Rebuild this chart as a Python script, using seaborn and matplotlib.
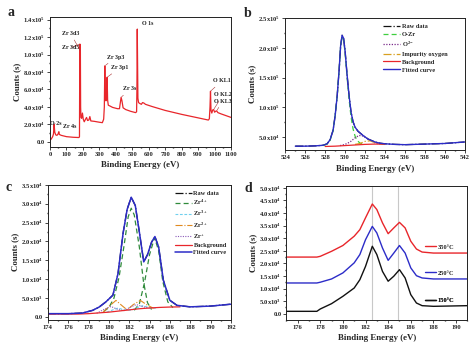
import numpy as np
import matplotlib
matplotlib.use("Agg")
import matplotlib.pyplot as plt
import seaborn as sns
from matplotlib.ticker import FuncFormatter, MultipleLocator, AutoMinorLocator

# ---------------- (a) survey spectrum ----------------
survey_ev = [0, 8, 16, 21, 25, 29, 35, 42, 49, 53, 57, 68, 100, 140, 176, 179, 180,
             181.5, 183, 184.5, 186, 188, 192, 197, 202, 208, 216, 222, 228, 236, 242,
             248, 270, 300, 318, 326, 330, 333, 336, 340, 344, 347, 350, 354, 365, 380,
             410, 422, 428, 432, 437, 444, 460, 490, 520, 526, 528, 530, 532, 534, 538,
             545, 555, 562, 570, 580, 620, 700, 800, 900, 962, 968, 972, 975, 978, 983,
             988, 994, 1000, 1006, 1012, 1020, 1040, 1070, 1100]
survey_counts = [1500, 3500, 6000, 9000, 20000, 11000, 8000, 7500, 9000, 11500, 8500,
                 7500, 6000, 5300, 5000, 6000, 60000, 112000, 90000, 104000, 40000,
                 28000, 27000, 33000, 26000, 23000, 26000, 28000, 24500, 25000, 29000,
                 24000, 23500, 22500, 22000, 26000, 40000, 87000, 52000, 47000, 50000,
                 74000, 48000, 42000, 41000, 39500, 38000, 38000, 46000, 51000, 47000,
                 39000, 37000, 35000, 33500, 34500, 60000, 129000, 90000, 50000, 45000,
                 44000, 43000, 45000, 44500, 43000, 40500, 36000, 31500, 27500, 25000,
                 26500, 40000, 58000, 36000, 33000, 36500, 37000, 34000, 35000, 35500,
                 33500, 32000, 30000, 28000]
survey_labels = ["O 2s", "Zr 4s", "Zr 3d5", "Zr 3d3", "Zr 3p3", "Zr 3p1", "Zr 3s",
                 "O 1s", "O KL1", "O KL2", "O KL3"]
survey_peak_ev = [25, 53, 181.5, 184.5, 333, 347, 432, 530, 975, 994, 1012]
survey_text_ev = [0, 80, 73, 73, 348, 373, 446, 556, 990, 996, 996]
survey_text_counts = [21500, 18000, 108000, 124000, 97000, 85000, 60600, 135000,
                      69800, 53700, 46800]

# ---------------- (b) O 1s ----------------
o1s_ev = [525, 526, 527, 527.8, 528.2, 528.5, 528.8, 529.0, 529.2, 529.4, 529.55,
          529.7, 529.85, 530.0, 530.2, 530.4, 530.6, 530.8, 531.0, 531.3, 531.8, 532.3,
          533.0, 533.5, 534, 535, 536, 538, 540, 542]
o1s_fit = [35000, 35000, 35500, 36500, 39000, 46000, 62000, 86000, 118000, 162000,
           203000, 221000, 216000, 195000, 155000, 120000, 92000, 76000, 67000, 60000,
           53000, 47000, 42000, 40000, 39000, 38000, 37500, 38500, 39500, 42000]
o1s_raw = o1s_fit
ozr_ev = [527.8, 528.2, 528.5, 528.8, 529.0, 529.2, 529.4, 529.55, 529.7, 529.85, 530.0,
          530.2, 530.4, 530.6, 530.8, 531.0, 531.2, 531.5, 532.0]
ozr_counts = [36000, 38500, 45000, 61000, 85000, 117000, 161000, 201000, 218000,
              213000, 192000, 151000, 114000, 84000, 64000, 52000, 45000, 40000, 37500]
o2_ev = [529.5, 530.0, 530.5, 531.0, 531.4, 531.8, 532.3, 532.8, 533.3, 534.0]
o2_counts = [36000, 38000, 42000, 49000, 53000, 52000, 47000, 42000, 39000, 38000]
oimp_ev = [531.0, 531.5, 532.0, 532.5, 533.0, 533.5, 534.0]
oimp_counts = [38000, 39500, 43000, 44000, 41000, 38500, 38000]
obg_ev = [528, 529, 530, 531, 532, 533, 534]
obg_counts = [34500, 35000, 36000, 37000, 38000, 38500, 38500]

# ---------------- (c) Zr 3d ----------------
zr_ev = [174, 176, 177.4, 178.4, 179.05, 179.7, 180.4, 180.9, 181.4, 181.8, 182.2,
         182.6, 183.0, 183.43, 183.8, 184.2, 184.53, 184.9, 185.36, 186.0, 186.7, 188,
         190, 192]
zr_fit = [900, 900, 1060, 1770, 2660, 4000, 5800, 11500, 22200, 28500, 31700, 29500,
          22500, 14600, 16500, 19800, 21300, 18500, 9750, 4430, 3100, 2700, 2900, 3400]
zr_raw = zr_fit
zr4a_ev = [179.5, 180.0, 180.5, 181.0, 181.5, 181.9, 182.2, 182.5, 183.0, 183.4, 183.8,
           184.2]
zr4a_counts = [1500, 2500, 5000, 10500, 19000, 26500, 28800, 27000, 18500, 9500, 3800,
               2000]
zr4b_ev = [182.5, 183.0, 183.5, 184.0, 184.5, 184.9, 185.3, 185.8, 186.3]
zr4b_counts = [1800, 3500, 9000, 16500, 21000, 17500, 9500, 4000, 2500]
zr3_ev = [179.8, 180.4, 180.9, 181.5, 182.2, 182.8, 183.3, 183.9, 184.6]
zr3_counts = [1300, 1900, 2400, 1900, 1800, 2500, 3000, 2600, 2300]
zr2_ev = [179.4, 180.0, 180.7, 181.3, 181.8, 182.4, 183.1, 183.7, 184.4]
zr2_counts = [1200, 2800, 4400, 3000, 1900, 3300, 4400, 3300, 2300]
zr1_ev = [178.8, 179.5, 180.2, 180.9, 181.5, 182.1, 182.7, 183.3, 184.0]
zr1_counts = [1000, 2000, 2800, 2000, 1700, 2600, 3300, 2800, 2300]
zrbg_ev = [174, 177, 178, 179, 180, 181, 182, 183, 184, 185, 186, 187]
zrbg_counts = [800, 800, 900, 1100, 1300, 1600, 1900, 2200, 2400, 2550, 2650, 2700]

# ---------------- (d) temperature series ----------------
temp_ev = [175, 177.7, 178, 179, 180, 181, 181.5, 182, 182.6, 183, 183.5, 184, 184.5,
           185, 185.5, 186, 186.5, 187, 188, 191]
temp_150 = [930, 930, 1860, 3980, 6900, 10200, 13500, 18800, 26800, 23500, 16800,
            12900, 14900, 17500, 14200, 7560, 4240, 3180, 2920, 3180]
temp_250 = [12200, 12200, 12500, 13800, 16200, 20200, 23500, 29400, 34700, 32100, 26100,
            21200, 24100, 27100, 24100, 18200, 15100, 14200, 13800, 13800]
temp_350 = [22500, 22500, 22800, 24800, 27100, 30800, 33400, 38100, 43600, 41400, 36100,
            31800, 34100, 36300, 34100, 28800, 25700, 24500, 24100, 24100]
temp_labels = ["350°C", "250°C", "150°C"]
peak_lines = [182.6, 184.9]

RED = "#e8262b"
BLUE = "#2c2cc8"
BLACK = "#111111"

sns.set_theme(style="ticks")
plt.rcParams.update({
    "font.family": ["Liberation Serif", "DejaVu Serif"],
    "font.weight": "bold",
    "mathtext.fontset": "custom",
    "mathtext.rm": "Liberation Serif:bold",
    "mathtext.it": "Liberation Serif:bold",
    "mathtext.bf": "Liberation Serif:bold",
    "axes.linewidth": 0.7,
    "axes.edgecolor": "#222222",
    "xtick.major.size": 2.0,
    "ytick.major.size": 2.0,
    "xtick.minor.size": 1.0,
    "ytick.minor.size": 1.0,
    "xtick.major.width": 0.6,
    "ytick.major.width": 0.6,
    "xtick.direction": "out",
    "ytick.direction": "out",
})


def sci(v, pos):
    if abs(v) < 1e-9:
        return "0.0"
    e = int(np.floor(np.log10(abs(v))))
    m = v / 10 ** e
    return f"{m:.1f}x10$^{{{e}}}$"


def style(ax, xlim, xstep, ylim, ystep):
    ax.set_xlim(*xlim)
    ax.set_ylim(*ylim)
    ax.xaxis.set_major_locator(MultipleLocator(xstep))
    ax.yaxis.set_major_locator(MultipleLocator(ystep))
    ax.xaxis.set_minor_locator(AutoMinorLocator(2))
    ax.yaxis.set_minor_locator(AutoMinorLocator(2))
    ax.yaxis.set_major_formatter(FuncFormatter(sci))
    ax.tick_params(axis="both", labelsize=4.7, pad=1.5)
    for t in ax.get_xticklabels() + ax.get_yticklabels():
        t.set_fontweight("bold")
    ax.set_xlabel("Binding Energy (eV)", fontsize=6.4, fontweight="bold", labelpad=3.5)
    ax.set_ylabel("Counts (s)", fontsize=6.4, fontweight="bold", labelpad=1.5)
    for s in ax.spines.values():
        s.set_visible(True)


fig = plt.figure(figsize=(4.74, 3.46), dpi=100)
ax_a = fig.add_axes([0.1055, 0.576, 0.382, 0.375])
ax_b = fig.add_axes([0.602, 0.566, 0.378, 0.382])
ax_c = fig.add_axes([0.101, 0.076, 0.386, 0.390])
ax_d = fig.add_axes([0.604, 0.076, 0.382, 0.386])

# panel letters
for letter, px, py in [("a", 7, 16), ("b", 244, 17), ("c", 6, 191), ("d", 244, 192)]:
    fig.text(px / 474, 1 - py / 346, letter, fontsize=10, fontweight="bold",
             ha="left", va="baseline")

# (a)
sns.lineplot(x=survey_ev, y=survey_counts, ax=ax_a, color=RED, lw=0.9,
             errorbar=None, sort=False)
for name, pev, tx, ty in zip(survey_labels, survey_peak_ev, survey_text_ev,
                             survey_text_counts):
    py = np.interp(pev, survey_ev, survey_counts)
    ax_a.annotate(name, xy=(pev, py), xytext=(tx, ty), fontsize=4.3,
                  fontweight="bold", ha="left", va="center", color="#222222",
                  arrowprops=dict(arrowstyle="-", lw=0.4, color="#aa3333",
                                  shrinkA=0.5, shrinkB=0.5))
style(ax_a, (0, 1100), 100, (-5500, 143000), 20000)

# (b)
sns.lineplot(x=o1s_ev, y=o1s_raw, ax=ax_b, color=BLACK, lw=0.9, linestyle="-.",
             label="Raw data", errorbar=None)
sns.lineplot(x=ozr_ev, y=ozr_counts, ax=ax_b, color="#3fcf3f", lw=0.9,
             linestyle=(0, (4, 2.5)), label="O-Zr", errorbar=None)
sns.lineplot(x=o2_ev, y=o2_counts, ax=ax_b, color="#7a2a8a", lw=0.9,
             linestyle=(0, (1, 1.2)), label="O$^{2-}$", errorbar=None)
sns.lineplot(x=oimp_ev, y=oimp_counts, ax=ax_b, color="#d8a020", lw=0.9,
             linestyle="-.", label="Impurity oxygen", errorbar=None)
sns.lineplot(x=obg_ev, y=obg_counts, ax=ax_b, color=RED, lw=0.9,
             label="Background", errorbar=None)
sns.lineplot(x=o1s_ev, y=o1s_fit, ax=ax_b, color=BLUE, lw=1.0,
             label="Fitted curve", errorbar=None)
style(ax_b, (524, 542), 2, (28300, 250000), 50000)
ax_b.legend(loc="upper left", bbox_to_anchor=(0.52, 0.99), frameon=False,
            fontsize=4.6, handlelength=2.6, handletextpad=0.3, labelspacing=0.38,
            borderpad=0.2)

# (c)
sns.lineplot(x=zr_ev, y=zr_raw, ax=ax_c, color=BLACK, lw=0.9, linestyle="-.",
             label="Raw data", errorbar=None)
sns.lineplot(x=zr4a_ev, y=zr4a_counts, ax=ax_c, color="#2f8a3a", lw=0.9,
             linestyle=(0, (4, 2.5)), label="Zr$^{4+}$", errorbar=None)
sns.lineplot(x=zr4b_ev, y=zr4b_counts, ax=ax_c, color="#2f8a3a", lw=0.9,
             linestyle=(0, (4, 2.5)), errorbar=None)
sns.lineplot(x=zr3_ev, y=zr3_counts, ax=ax_c, color="#6fd0ee", lw=0.8,
             linestyle=(0, (2.5, 1.5)), label="Zr$^{3+}$", errorbar=None)
sns.lineplot(x=zr2_ev, y=zr2_counts, ax=ax_c, color="#e08a20", lw=0.8,
             linestyle="-.", label="Zr$^{2+}$", errorbar=None)
sns.lineplot(x=zr1_ev, y=zr1_counts, ax=ax_c, color="#8a5ab8", lw=0.8,
             linestyle=(0, (1, 1.2)), label="Zr$^{+}$", errorbar=None)
sns.lineplot(x=zrbg_ev, y=zrbg_counts, ax=ax_c, color=RED, lw=0.9,
             label="Background", errorbar=None)
sns.lineplot(x=zr_ev, y=zr_fit, ax=ax_c, color=BLUE, lw=1.1,
             label="Fitted curve", errorbar=None)
style(ax_c, (174, 192), 2, (-700, 35000), 5000)
ax_c.legend(loc="upper left", bbox_to_anchor=(0.67, 0.99), frameon=False,
            fontsize=4.6, handlelength=2.6, handletextpad=0.3, labelspacing=0.3,
            borderpad=0.2)

# (d)
for xv in peak_lines:
    ax_d.axvline(xv, color="#c8c8c8", lw=0.8, zorder=0)
series = [(temp_350, RED), (temp_250, BLUE), (temp_150, BLACK)]
anchors = [0.545, 0.35, 0.142]
for (vals, col), lab, yy in zip(series, temp_labels, anchors):
    sns.lineplot(x=temp_ev, y=vals, ax=ax_d, color=col, lw=1.0, errorbar=None)
    h = ax_d.plot([], [], color=col, lw=1.0)[0]
    leg = ax_d.legend([h], [lab], loc="center left", bbox_to_anchor=(0.765, yy),
                      frameon=False, fontsize=4.6, handlelength=1.7,
                      handletextpad=0.3, borderpad=0.0, borderaxespad=0.0)
    ax_d.add_artist(leg)
style(ax_d, (175, 191), 2, (-2400, 50700), 5000)
ax_d.set_xticks([176, 178, 180, 182, 184, 186, 188, 190])

fig.savefig("out.png", dpi=100)
